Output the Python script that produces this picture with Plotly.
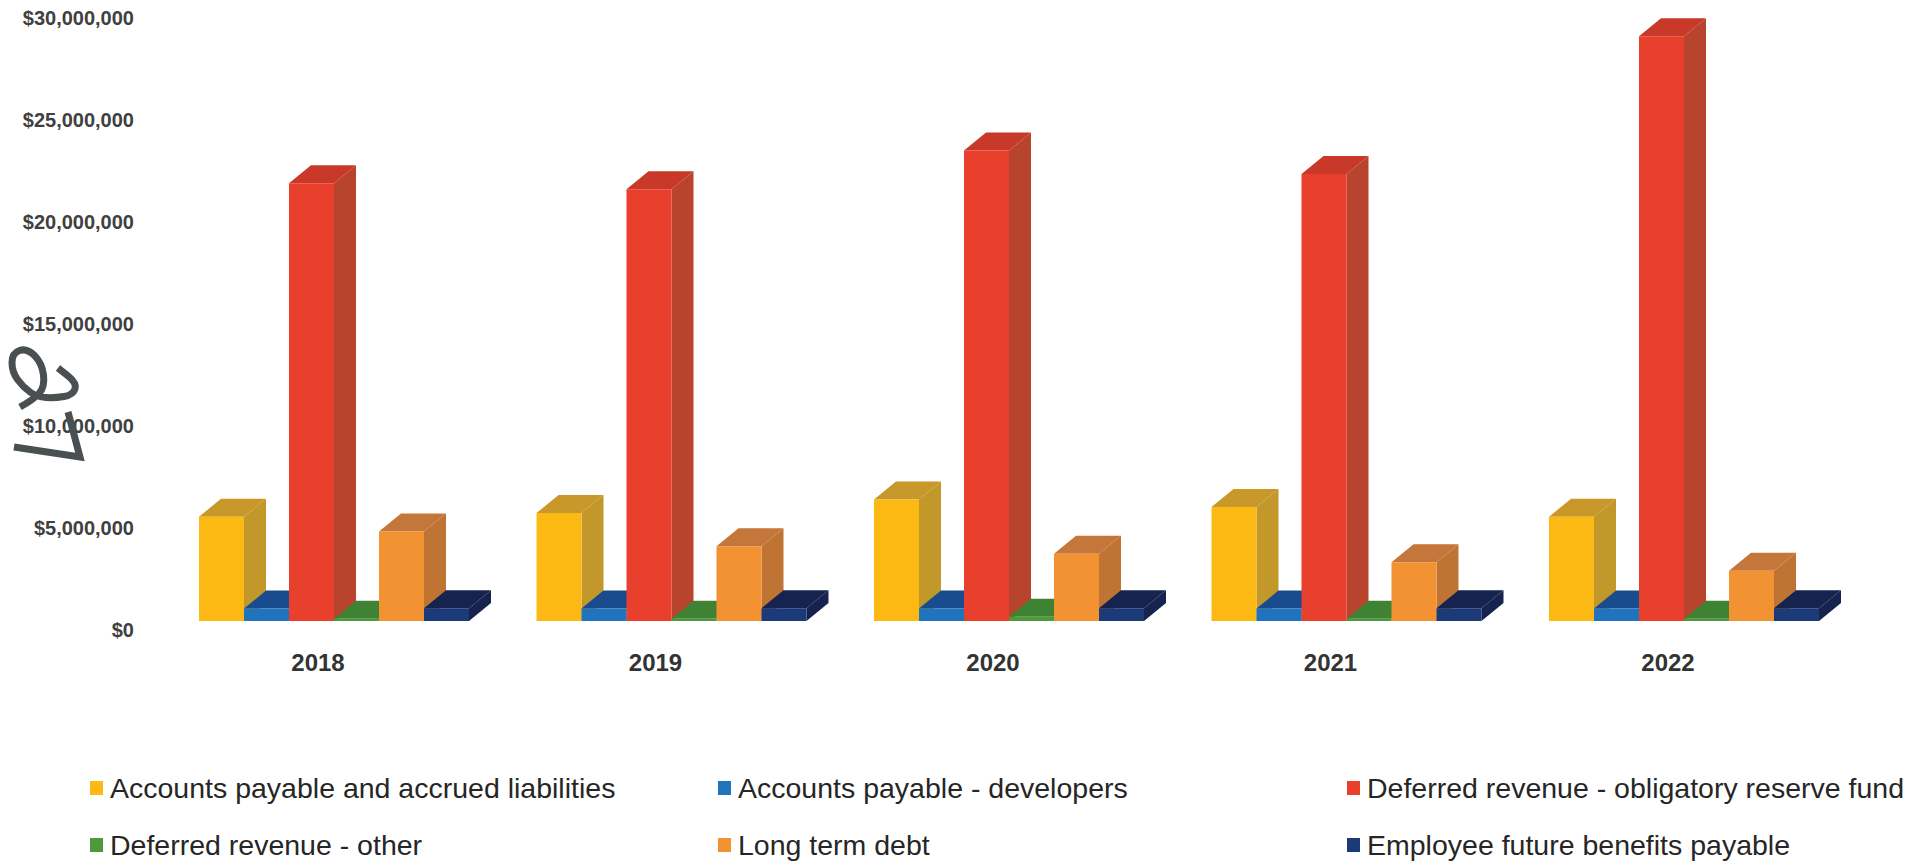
import plotly.graph_objects as go

years = ["2018", "2019", "2020", "2021", "2022"]
series_names = [
    "Accounts payable and accrued liabilities",
    "Accounts payable - developers",
    "Deferred revenue - obligatory reserve fund",
    "Deferred revenue - other",
    "Long term debt",
    "Employee future benefits payable",
]
accounts_payable = [5550000, 5730000, 6400000, 6030000, 5550000]
payable_developers = [1050000, 1050000, 1050000, 1050000, 1050000]
deferred_reserve = [21900000, 21600000, 23500000, 22350000, 29100000]
deferred_other = [550000, 550000, 650000, 550000, 550000]
long_term_debt = [4830000, 4100000, 3740000, 3320000, 2900000]
employee_benefits = [1070000, 1070000, 1070000, 1070000, 1070000]
series_values = [accounts_payable, payable_developers, deferred_reserve,
                 deferred_other, long_term_debt, employee_benefits]
front_colors = ["#FDB913", "#1F74BD", "#E8402C", "#4E9A3A", "#F39233", "#1C3A78"]
side_colors = ["#C2982A", "#174F93", "#B8442E", "#3E7A30", "#BF7434", "#16234F"]
top_colors = ["#C9982A", "#184C8E", "#C9392A", "#3F8233", "#C5763A", "#16234F"]
y_ticks = [0, 5000000, 10000000, 15000000, 20000000, 25000000, 30000000]
y_labels = ["$0", "$5,000,000", "$10,000,000", "$15,000,000", "$20,000,000", "$25,000,000", "$30,000,000"]

# layout geometry (pixels)
W, H = 1925, 861
LEFT, BOTTOM_PX = 135, 630
PX_PER_M = 20.4
GROUP_PX = 337.5
TICK0_PX = 318

# 3D look, expressed in axis units
bar_w = 45 / GROUP_PX
first_off = (199 - TICK0_PX) / GROUP_PX
depth_x = 22 / GROUP_PX
depth_y = 18 / PX_PER_M * 1e6
floor = 9 / PX_PER_M * 1e6

fig = go.Figure()


def add_faces(polys, color, name):
    xs, ys = [], []
    for p in polys:
        xs += [q[0] for q in p] + [p[0][0], None]
        ys += [q[1] for q in p] + [p[0][1], None]
    fig.add_trace(go.Scatter(x=xs, y=ys, mode="lines", fill="toself", fillcolor=color,
                             line=dict(width=0, color=color), name=name,
                             hoverinfo="skip", showlegend=False))


for s, vals in enumerate(series_values):
    sides, tops, fronts = [], [], []
    for g, v in enumerate(vals):
        x0 = g + first_off + s * bar_w
        x1 = x0 + bar_w
        fronts.append([(x0, floor), (x1, floor), (x1, v), (x0, v)])
        tops.append([(x0, v), (x1, v), (x1 + depth_x, v + depth_y), (x0 + depth_x, v + depth_y)])
        sides.append([(x1, floor), (x1 + depth_x, floor + depth_y), (x1 + depth_x, v + depth_y), (x1, v)])
    add_faces(sides, side_colors[s], series_names[s])
    add_faces(tops, top_colors[s], series_names[s])
    add_faces(fronts, front_colors[s], series_names[s])


def px(x):
    return (x - LEFT) / (W - LEFT)


def py(y):
    return (BOTTOM_PX - y) / BOTTOM_PX


# legend drawn to match the reference's tight swatch/label spacing
legend_cols = [90, 718, 1347]
legend_rows = [788, 845]
shapes, annos = [], []
for i, name in enumerate(series_names):
    col = legend_cols[i % 3]
    row = legend_rows[i // 3]
    shapes.append(dict(type="rect", xref="paper", yref="paper",
                       x0=px(col), x1=px(col + 13), y0=py(row - 7), y1=py(row + 7),
                       fillcolor=front_colors[i], line=dict(width=0)))
    annos.append(dict(xref="paper", yref="paper", x=px(col + 18), y=py(row), text=name,
                      showarrow=False, xanchor="left", yanchor="middle",
                      font=dict(family="Liberation Sans", size=28.5, color="#262626")))

# handwritten mark in the left margin
loop_pts = [(20, 407), (33, 400), (45, 387), (42, 363), (27, 348), (12, 353), (12, 372),
            (23, 387), (37, 397), (55, 398), (73, 395), (77, 383), (58, 368)]
seven_pts = [(68, 412), (80, 457), (14, 447)]


def smooth(pts):
    d = f"M {px(pts[0][0]):.5f} {py(pts[0][1]):.5f}"
    for a, b in zip(pts[1:-1], pts[2:]):
        mx, my = (a[0] + b[0]) / 2, (a[1] + b[1]) / 2
        d += f" Q {px(a[0]):.5f} {py(a[1]):.5f} {px(mx):.5f} {py(my):.5f}"
    d += f" L {px(pts[-1][0]):.5f} {py(pts[-1][1]):.5f}"
    return d


def poly(pts):
    return "M " + " L ".join(f"{px(x):.5f} {py(y):.5f}" for x, y in pts)


for path in (smooth(loop_pts), poly(seven_pts)):
    shapes.append(dict(type="path", xref="paper", yref="paper", path=path,
                       line=dict(color="#4A5052", width=7)))

fig.update_layout(
    width=W, height=H,
    margin=dict(l=LEFT, r=0, t=0, b=H - BOTTOM_PX),
    paper_bgcolor="white", plot_bgcolor="white",
    showlegend=False, shapes=shapes, annotations=annos,
    xaxis=dict(range=[(LEFT - TICK0_PX) / GROUP_PX, (W - TICK0_PX) / GROUP_PX],
               tickmode="array", tickvals=list(range(5)), ticktext=years,
               showgrid=False, zeroline=False, showline=False,
               ticks="outside", ticklen=11, tickcolor="rgba(0,0,0,0)",
               tickfont=dict(family="Liberation Sans", size=24, color="#333333", weight="bold")),
    yaxis=dict(range=[0, BOTTOM_PX / PX_PER_M * 1e6],
               tickmode="array", tickvals=y_ticks, ticktext=y_labels,
               showgrid=False, zeroline=False, showline=False,
               ticks="", tickfont=dict(family="Liberation Sans", size=20, color="#404040", weight="bold")),
)

fig.write_html("out.html", config={"displayModeBar": False},
               post_script="document.body.style.margin='0';document.body.style.overflow='hidden';")
